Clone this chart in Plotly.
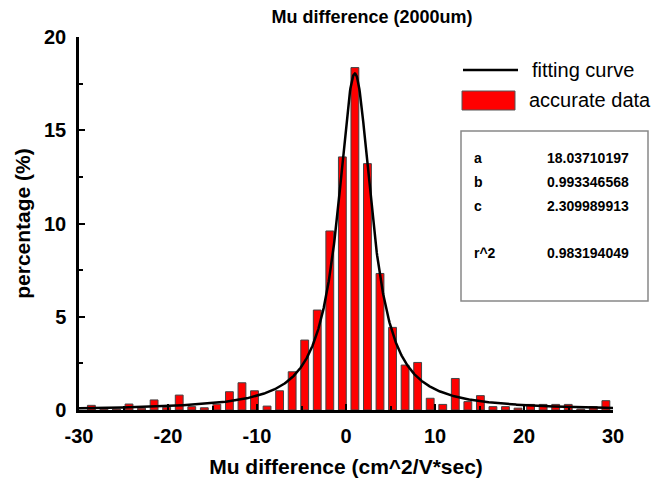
import numpy as np
import plotly.graph_objects as go

# ---------------- data ----------------
bin_centers = [-28.61, -27.2, -25.79, -24.38, -22.97, -21.56, -20.15, -18.74, -17.33, -15.92,
               -14.51, -13.1, -11.69, -10.28, -8.87, -7.46, -6.05, -4.64, -3.23, -1.82,
               -0.41, 1.0, 2.41, 3.82, 5.23, 6.64, 8.05, 9.46, 10.87, 12.28,
               13.69, 15.1, 16.51, 17.92, 19.33, 20.74, 22.15, 23.56, 24.97, 26.38,
               27.79, 29.2]
percentages = [0.25, 0.05, 0.05, 0.32, 0.1, 0.54, 0.15, 0.8, 0.18, 0.12,
               0.31, 0.98, 1.46, 1.03, 0.21, 1.03, 2.05, 3.75, 5.36, 9.6,
               13.57, 18.36, 13.21, 7.32, 4.43, 2.41, 2.55, 0.63, 0.3, 1.69,
               0.45, 0.77, 0.18, 0.18, 0.1, 0.3, 0.3, 0.3, 0.3, 0.05,
               0.18, 0.5]

fit_a = 18.03710197
fit_b = 0.993346568
fit_c = 2.309989913
r_squared = 0.983194049

param_labels = ["a", "b", "c", "r^2"]
param_values = ["18.03710197", "0.993346568", "2.309989913", "0.983194049"]

x_ticks = [-30, -20, -10, 0, 10, 20, 30]
x_tick_labels = ["-30", "-20", "-10", "0", "10", "20", "30"]
y_ticks = [0, 5, 10, 15, 20]
y_tick_labels = ["0", "5", "10", "15", "20"]

title_text = "Mu difference (2000um)"
x_title = "Mu difference (cm^2/V*sec)"
y_title = "percentage (%)"
legend_names = ["fitting curve", "accurate data"]

# fitted Lorentzian curve from the displayed parameters
x_fit = np.linspace(-30, 30, 1201)
y_fit = fit_a / (1 + ((x_fit - fit_b) / fit_c) ** 2)

# ---------------- figure ----------------
# the page body has an 8px margin; positions below are given in window pixels
OFF = 8
W, H = 661 - OFF, 484 - OFF
PLOT_L, PLOT_R, PLOT_T, PLOT_B = 79, 613, 37, 410   # window pixels
ML, MR = PLOT_L - OFF, (661 - PLOT_R)
MT, MB = PLOT_T - OFF, (484 - PLOT_B)
PW, PH = PLOT_R - PLOT_L, PLOT_B - PLOT_T
FONT = "Liberation Sans, Arial, sans-serif"


def px(x):
    return (x - PLOT_L) / PW


def py(y):
    return (PLOT_B - y) / PH


fig = go.Figure()
fig.add_trace(go.Bar(
    x=bin_centers, y=percentages, width=0.88,
    marker=dict(color="#ff0000", line=dict(color="#444444", width=1)),
    name=legend_names[1], showlegend=False,
))
fig.add_trace(go.Scatter(
    x=x_fit, y=y_fit, mode="lines",
    line=dict(color="black", width=2.5),
    name=legend_names[0], showlegend=False,
))

axis_common = dict(
    showline=True, linecolor="black", linewidth=2.5,
    ticks="inside", ticklen=6, tickwidth=2, tickcolor="black",
    showgrid=False, zeroline=False, automargin=False,
    tickfont=dict(family=FONT, size=20, color="black", weight="bold"),
)

fig.update_layout(
    width=W, height=H, autosize=False,
    margin=dict(l=ML, r=MR, t=MT, b=MB, pad=0),
    plot_bgcolor="white", paper_bgcolor="white",
    title=dict(text=title_text, x=(372 - OFF) / W, y=1 - (17 - OFF) / H,
               xref="container", yref="container",
               xanchor="center", yanchor="middle", automargin=False,
               font=dict(family=FONT, size=18, color="black", weight="bold")),
    xaxis=dict(range=[-30, 30], tickvals=x_ticks, ticktext=x_tick_labels, ticklabelstandoff=6,
               minor=dict(ticks="inside", dtick=5, ticklen=4, tickwidth=2, tickcolor="black"),
               title=dict(text=x_title, standoff=14,
                          font=dict(family=FONT, size=21, color="black", weight="bold")),
               **axis_common),
    yaxis=dict(range=[0, 20], tickvals=y_ticks, ticktext=y_tick_labels, ticklabelstandoff=6,
               minor=dict(ticks="inside", dtick=2.5, ticklen=4, tickwidth=2, tickcolor="black"),
               title=dict(text=y_title, standoff=8,
                          font=dict(family=FONT, size=21, color="black", weight="bold")),
               **axis_common),
    showlegend=False,
)

shapes = []
annotations = []
# legend
shapes.append(dict(type="line", xref="paper", yref="paper",
                   x0=px(463), x1=px(518), y0=py(70), y1=py(70),
                   line=dict(color="black", width=2.5)))
shapes.append(dict(type="rect", xref="paper", yref="paper",
                   x0=px(462), x1=px(515), y0=py(110), y1=py(91),
                   fillcolor="#ff0000", line=dict(color="#555555", width=1)))
annotations.append(dict(text=legend_names[0], xref="paper", yref="paper", x=px(530), y=py(70),
                        xanchor="left", yanchor="middle", showarrow=False,
                        font=dict(family=FONT, size=20, color="black")))
annotations.append(dict(text=legend_names[1], xref="paper", yref="paper", x=px(527), y=py(100),
                        xanchor="left", yanchor="middle", showarrow=False,
                        font=dict(family=FONT, size=20, color="black")))
# statistics box
shapes.append(dict(type="rect", xref="paper", yref="paper",
                   x0=px(461), x1=px(648), y0=py(301), y1=py(131),
                   fillcolor="rgba(0,0,0,0)", line=dict(color="#888888", width=1.5)))
row_y = [158, 182, 206, 253]
for lab, val, yy in zip(param_labels, param_values, row_y):
    annotations.append(dict(text=lab, xref="paper", yref="paper", x=px(472), y=py(yy),
                            xanchor="left", yanchor="middle", showarrow=False,
                            font=dict(family=FONT, size=14, color="black", weight="bold")))
    annotations.append(dict(text=val, xref="paper", yref="paper", x=px(545), y=py(yy),
                            xanchor="left", yanchor="middle", showarrow=False,
                            font=dict(family=FONT, size=14, color="black", weight="bold")))

fig.update_layout(shapes=shapes, annotations=annotations)
fig.write_html("out.html")
